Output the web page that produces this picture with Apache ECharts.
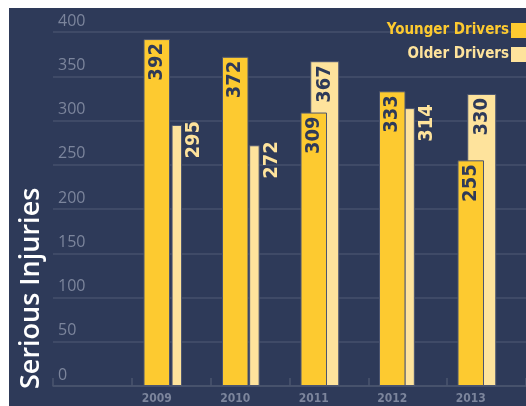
<!DOCTYPE html>
<html>
<head>
<meta charset="utf-8">
<script src="https://cdn.jsdelivr.net/npm/echarts@6/dist/echarts.min.js"></script>
<style>
  html, body { margin: 0; padding: 0; background: #fff; }
  #chart { position: absolute; left: 9px; top: 8px; width: 517px; height: 398px; }
</style>
</head>
<body>
<div id="chart"></div>
<script>
const years = ['2009', '2010', '2011', '2012', '2013'];
const younger = [392, 372, 309, 333, 255];
const older = [295, 272, 367, 314, 330];
const yTicks = [0, 50, 100, 150, 200, 250, 300, 350, 400];

const NAVY = '#2e3a59';
const YELLOW = '#fdca30';
const LIGHT = '#fee39c';
const COND = '"DejaVu Sans Condensed", "DejaVu Sans"';

// older bar is drawn wide and behind when it beats the younger one, narrow beside otherwise
const olderNarrow = older.map((v, i) => v < younger[i] ? v : null);
const olderWide = older.map((v, i) => v >= younger[i] ? v : null);

const chart = echarts.init(document.getElementById('chart'));

const valueAxis = (gridIndex, show) => ({
    type: 'value', gridIndex: gridIndex, min: yTicks[0], max: yTicks[yTicks.length - 1], interval: 50,
    show: show,
    axisLine: { show: false }, axisTick: { show: false },
    splitLine: { show: show, lineStyle: { color: '#46506d', width: 1.5 } },
    axisLabel: {
        show: show, inside: true, margin: 5, verticalAlign: 'bottom', padding: [0, 0, 3, 0],
        color: '#7c859c', fontFamily: 'Open Sans', fontSize: 16
    }
});

const barAxis = (gridIndex, show) => ({
    type: 'category', gridIndex: gridIndex, data: years,
    axisLine: { show: false }, axisTick: { show: false },
    axisLabel: {
        show: show, margin: 7, color: '#7c859c',
        fontFamily: COND, fontWeight: 'bold', fontSize: 12
    }
});

const labelFont = { fontFamily: COND, fontWeight: 'bold', fontSize: 20 };

const insideLabel = {
    show: true, position: 'insideTop', distance: 4, rotate: 90,
    align: 'right', verticalAlign: 'middle', color: NAVY, ...labelFont
};

chart.setOption({
    backgroundColor: NAVY,
    animation: false,
    legend: {
        orient: 'vertical', right: -6, top: 10, align: 'right',
        itemWidth: 16, itemHeight: 15, itemGap: 9,
        icon: 'rect',
        itemStyle: { borderWidth: 0 },
        data: [
            { name: 'Younger Drivers', textStyle: { color: YELLOW } },
            { name: 'Older Drivers', textStyle: { color: LIGHT } }
        ],
        textStyle: { fontFamily: COND, fontWeight: 'bold', fontSize: 15, padding: [0, -3, 0, 0] }
    },
    grid: [
        { left: 44, right: 0, top: 24, bottom: 20 },
        { left: 108.5, width: 392.5, top: 24, bottom: 20 },
        { left: 129, width: 392.5, top: 24, bottom: 20 },
        { left: 119.5, width: 392.5, top: 24, bottom: 20 }
    ],
    xAxis: [
        {
            type: 'category', gridIndex: 0, data: ['', '', '', '', '', ''],
            axisLine: { show: true, lineStyle: { color: '#4b556f', width: 1.5 } },
            axisTick: { show: true, inside: true, length: 8, lineStyle: { color: '#4b556f', width: 1.5 } },
            axisLabel: { show: false }
        },
        barAxis(1, true),
        barAxis(2, false),
        barAxis(3, false)
    ],
    yAxis: [valueAxis(0, true), valueAxis(1, false), valueAxis(2, false), valueAxis(3, false)],
    graphic: [{
        type: 'text', x: 22, y: 381, rotation: Math.PI / 2,
        style: {
            text: 'Serious Injuries', fill: '#ffffff', align: 'left', verticalAlign: 'middle',
            font: '600 27px "Open Sans"'
        }
    }],
    series: [
        {
            name: 'Older Drivers', type: 'bar', xAxisIndex: 3, yAxisIndex: 3, z: 2,
            barWidth: 29, data: olderWide,
            itemStyle: { color: LIGHT, borderColor: '#4b5470', borderWidth: 1 },
            label: insideLabel
        },
        {
            name: 'Younger Drivers', type: 'bar', xAxisIndex: 1, yAxisIndex: 1, z: 3,
            barWidth: 26.5, data: younger,
            itemStyle: { color: YELLOW, borderColor: '#4b5470', borderWidth: 1 },
            label: insideLabel
        },
        {
            name: 'Older Drivers', type: 'bar', xAxisIndex: 2, yAxisIndex: 2, z: 2,
            barWidth: 10.5, data: olderNarrow,
            itemStyle: { color: LIGHT, borderColor: '#4b5470', borderWidth: 1 },
            label: {
                show: true, position: ['100%', 0], offset: [4, 2], rotate: 90,
                align: 'right', verticalAlign: 'top', color: LIGHT, ...labelFont
            }
        }
    ]
});
</script>
</body>
</html>
